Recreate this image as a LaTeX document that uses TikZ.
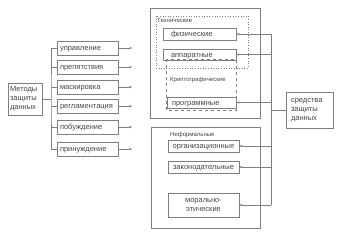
\documentclass[tikz,border=0pt]{standalone}
\usepackage{fontspec}
\setmainfont{Liberation Sans}
\usetikzlibrary{positioning,arrows.meta}
\definecolor{linegray}{HTML}{7F7F7F}
\definecolor{textgray}{HTML}{454545}

\begin{document}
\begin{tikzpicture}[x=1pt,y=-1pt,
    box/.style={draw=linegray,line width=0.6pt,text=textgray,inner ysep=0pt,
      font=\fontsize{7.5}{9}\selectfont,align=center},
    oneline/.style={text height=6.5pt,text depth=1.2pt},
    methodbox/.style={box,oneline,inner xsep=3pt,text width=55pt,align=left,minimum height=14pt},
    techbox/.style={box,oneline,inner xsep=8pt,text width=57pt,align=left,minimum height=12pt},
    meansbox/.style={box,inner xsep=0pt,minimum width=71pt,minimum height=12pt},
    grouplabel/.style={text=textgray,inner sep=0pt,anchor=west,font=\fontsize{6}{7}\selectfont},
    wire/.style={draw=linegray,line width=0.6pt},
    arrowwire/.style={wire,-{Stealth[length=3pt,width=2.2pt]}}]
  \useasboundingbox (0,0) rectangle (350,236);

  % methods
  \node[box,inner xsep=2pt,text width=30pt,align=left,minimum height=32pt] (methods) at (25,99) {Методы\\защиты\\данных};
  \node[methodbox] (m1) at (87.5,48) {управление};
  \node[methodbox] (m2) at (87.5,67) {препятствия};
  \node[methodbox] (m3) at (87.5,87) {маскировка};
  \node[methodbox] (m4) at (87.5,106) {регламентация};
  \node[methodbox] (m5) at (87.5,127) {побуждение};
  \node[methodbox] (m6) at (87.5,149) {принуждение};

  \coordinate (trunk) at (51,99);
  \draw[wire] (methods.east) -- (trunk);
  \draw[wire] (m1.west) -| (trunk) |- (m6.west);
  \foreach \i in {2,...,5}
    \draw[wire] (m\i.west) -- (m\i.west -| trunk);
  \foreach \i in {1,...,6} {
    \coordinate[right=14pt of m\i.east] (out\i);
    \draw[arrowwire] (m\i.east) -- (out\i);
  }

  % formal means
  \draw[linegray,line width=0.6pt] (150,8) rectangle (260,118);
  \draw[linegray,line width=0.6pt,dotted] (156,16) rectangle (248,68);
  \node[grouplabel] (tech) at (157,20) {Технические};
  \node[grouplabel] (crypto) at (170,80) {Криптографические};
  \node[techbox] (phys) at (199.5,34) {физические};
  \node[techbox,minimum height=11pt] (hard) at (199.5,54.5) {аппаратные};
  \node[techbox,inner xsep=5pt,text width=59pt,minimum height=11pt] (soft) at (201.5,102.5) {программные};
  \draw[linegray,line width=0.6pt,dashed] (166,59) rectangle (236,110);

  % informal means
  \draw[linegray,line width=0.6pt] (151,127) rectangle (260,228);
  \node[grouplabel] (informal) at (170,135) {Неформальные};
  \node[meansbox,oneline] (org) at (203.5,146) {организационные};
  \node[meansbox,oneline] (law) at (203.5,167) {законодательные};
  \node[meansbox,minimum height=24pt] (moral) at (203.5,205) {морально-\\этические};

  % means of protection
  \node[box,inner xsep=5pt,text width=37pt,align=left,minimum height=36pt] (means) at (309.5,110) {средства\\защиты\\данных};
  \coordinate (bus) at (271,110);
  \draw[wire] (means.west) -- (bus);
  \draw[wire] (phys.east -| bus) -- (moral.east -| bus);
  \foreach \n in {phys,hard,soft,org,law,moral}
    \draw[arrowwire] (\n.east -| bus) -- (\n.east);
\end{tikzpicture}
\end{document}
